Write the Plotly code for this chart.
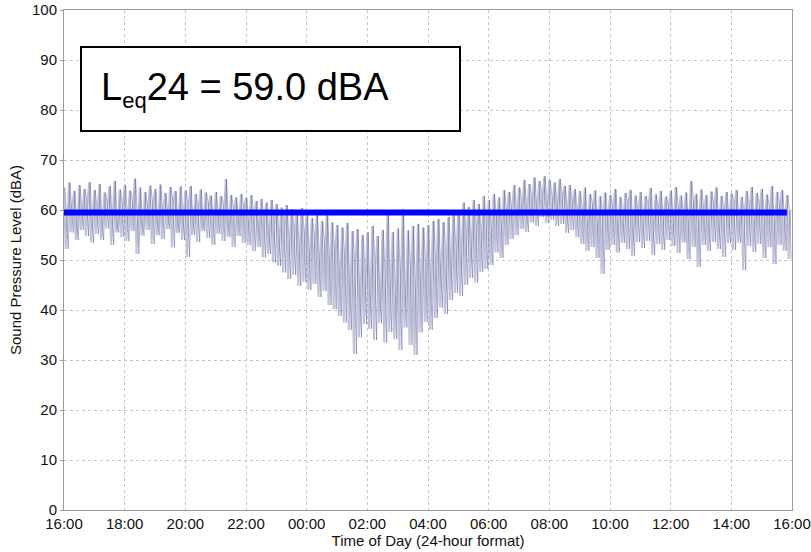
import pandas as pd
import plotly.graph_objects as go

# ---- data ----
start = pd.Timestamp("2020-01-01 16:00")

# highest level in each 10-minute interval (dBA)
spl_peaks = [
    64.5, 65.5, 63.8, 65.0, 64.2, 65.6,
    64.0, 65.2, 63.5, 64.8, 65.8, 64.1,
    65.0, 63.9, 66.3, 64.5, 63.6, 64.9,
    64.2, 65.1, 63.4, 64.6, 63.8, 64.7,
    63.9, 64.8, 63.2, 64.1, 63.5, 62.9,
    63.6, 62.8, 66.2, 63.0, 62.5, 63.2,
    62.4, 63.0, 61.8, 62.2, 61.5, 62.0,
    61.2, 60.5, 61.0, 60.2, 59.8, 60.4,
    59.0, 58.4, 59.2, 57.8, 60.0, 57.5,
    57.0, 56.5, 57.4, 55.8, 56.2, 55.0,
    55.5, 56.8, 54.8, 56.0, 59.6, 55.6,
    56.3, 60.1, 55.9, 56.8, 57.2, 56.5,
    57.0, 57.8, 58.2, 57.6, 58.6, 59.0,
    59.8, 61.5, 60.6, 62.0, 61.2, 62.8,
    62.0, 63.2, 62.5, 64.0, 63.6, 65.0,
    64.5, 66.0, 65.2, 66.5, 65.8, 66.8,
    66.0, 65.5, 66.2, 64.8, 65.0, 64.2,
    63.8, 64.5, 63.2, 63.9, 62.8, 63.5,
    63.0, 64.2, 62.6, 63.4, 64.0, 62.9,
    63.6, 62.8, 64.4, 63.1, 63.8, 62.7,
    63.9, 64.6, 62.9, 63.5, 65.8, 63.2,
    64.1, 63.0, 63.7, 64.5, 62.8, 63.6,
    63.3, 64.0, 62.6, 63.8, 64.6, 63.4,
    64.2, 63.1, 64.8, 63.6, 64.0, 63.0,
]

# lowest level in each 10-minute interval (dBA)
spl_troughs = [
    52.2, 55.5, 54.0, 56.0, 54.8, 53.5,
    55.2, 54.0, 56.3, 53.0, 55.5, 54.6,
    53.8, 55.8, 51.2, 54.9, 56.0, 53.2,
    55.0, 54.2, 56.2, 52.5, 55.4, 54.0,
    50.6, 55.0, 53.6, 55.8, 54.4, 53.0,
    55.2, 53.8, 54.6, 52.6, 54.8, 53.4,
    53.0, 51.8, 52.6, 50.5, 51.2, 49.5,
    48.8, 47.5, 46.2, 47.0, 44.8, 45.6,
    44.0, 45.2, 42.6, 43.8, 41.0, 40.2,
    38.8, 37.5, 36.0, 31.2, 34.5, 37.2,
    36.2, 34.0, 37.4, 33.5, 35.6, 34.2,
    32.0, 36.5, 33.0, 31.0, 35.5, 37.6,
    36.0, 38.4, 40.5, 39.2, 42.0, 43.4,
    42.8, 45.0, 46.4, 45.5, 47.6, 48.2,
    49.0, 51.5, 50.4, 53.0, 54.2, 55.0,
    56.2, 55.6, 57.5, 56.8, 58.6, 57.4,
    58.0, 56.8, 57.2, 55.4, 56.0, 54.5,
    53.2, 51.8, 52.6, 50.4, 47.2, 52.0,
    53.0, 51.5, 53.4, 52.2, 50.8, 53.6,
    52.4, 53.8, 51.0, 53.2, 52.0, 54.0,
    52.8, 51.4, 53.5, 50.2, 52.6, 48.6,
    53.0, 51.8, 53.6, 52.2, 50.6, 53.4,
    52.0, 53.5, 48.0, 52.8, 51.6, 53.2,
    50.4, 52.6, 49.2, 53.0, 51.8, 50.2,
]

# a typical in-between reading in each 10-minute interval (dBA)
spl_mid = [
    58.5, 61.0, 57.2, 60.4, 62.0, 58.8,
    60.6, 57.8, 61.5, 59.0, 56.8, 61.2,
    58.2, 62.1, 59.4, 57.0, 60.8, 61.6,
    57.6, 60.2, 58.8, 62.0, 57.4, 59.6,
    61.0, 58.0, 60.6, 57.6, 61.4, 58.4,
    59.8, 61.2, 57.0, 60.4, 58.2, 60.8,
    57.4, 59.6, 56.8, 58.8, 55.6, 58.2,
    55.0, 57.6, 53.8, 56.2, 52.6, 55.4,
    51.6, 54.8, 50.2, 53.6, 49.0, 52.4,
    47.4, 51.0, 45.2, 49.6, 43.6, 48.0,
    44.2, 49.8, 42.6, 47.2, 45.0, 41.8,
    47.6, 43.0, 48.8, 44.4, 46.6, 49.4,
    45.8, 50.2, 48.0, 51.6, 49.8, 53.0,
    52.2, 55.4, 53.6, 56.8, 54.8, 57.6,
    56.4, 58.8, 57.2, 59.8, 60.6, 59.4,
    61.8, 60.4, 62.6, 61.2, 63.4, 62.0,
    62.8, 61.4, 63.0, 60.2, 61.8, 59.6,
    60.4, 58.0, 61.2, 57.4, 59.6, 58.6,
    60.8, 57.6, 59.4, 61.6, 56.8, 60.2,
    58.4, 61.4, 57.2, 60.6, 58.8, 61.0,
    57.8, 60.4, 59.6, 57.0, 61.8, 58.2,
    60.6, 58.0, 61.2, 57.6, 60.0, 58.8,
    61.4, 57.4, 59.8, 60.8, 56.6, 61.0,
    58.2, 60.6, 57.6, 61.2, 58.6, 60.0,
]

leq_level = 59.5
leq_label = "L<sub><span style='font-size:22px'>eq</span></sub>24 = 59.0 dBA"
tick_labels = ["16:00", "18:00", "20:00", "22:00", "00:00", "02:00", "04:00",
               "06:00", "08:00", "10:00", "12:00", "14:00", "16:00"]
y_ticks = [0, 10, 20, 30, 40, 50, 60, 70, 80, 90, 100]

# ---- build series ----
# light trace: peak, trough, mid within each 10-minute interval
t_light, v_light = [], []
# dark trace: peak, mid, trough, interleaved in time with the light one
t_dark, v_dark = [], []
for i, (p, t, m) in enumerate(zip(spl_peaks, spl_troughs, spl_mid)):
    base = start + pd.Timedelta(minutes=10 * i)
    for k, v in enumerate((p, t, m)):
        t_light.append(base + pd.Timedelta(seconds=200 * k))
        v_light.append(v)
    for k, v in enumerate((p, m, t)):
        t_dark.append(base + pd.Timedelta(seconds=100 + 200 * k))
        v_dark.append(v)

tick_vals = [start + pd.Timedelta(hours=2 * k) for k in range(len(tick_labels))]
end = start + pd.Timedelta(hours=24)

fig = go.Figure()
fig.add_trace(go.Scatter(
    x=t_light, y=v_light, mode="lines",
    line=dict(color="rgb(194,194,214)", width=2.0),
    hoverinfo="skip", showlegend=False,
))
fig.add_trace(go.Scatter(
    x=t_dark, y=v_dark, mode="lines",
    line=dict(color="rgba(55,55,150,0.55)", width=0.7),
    hoverinfo="skip", showlegend=False,
))
fig.add_trace(go.Scatter(
    x=[start, start + pd.Timedelta(minutes=23 * 60 + 50)], y=[leq_level, leq_level],
    mode="lines", line=dict(color="#0000ff", width=6),
    showlegend=False,
))

font_family = "Liberation Sans, Arial, sans-serif"
grid_color = "#c4c4c4"
frame_color = "#9a9a9a"
fig.update_layout(
    width=811, height=552,
    margin=dict(l=64, r=19, t=10, b=42),
    paper_bgcolor="white", plot_bgcolor="white",
    font=dict(family=font_family, size=15, color="#111"),
    xaxis=dict(
        range=[start, end], tickvals=tick_vals, ticktext=tick_labels,
        showgrid=True, gridcolor=grid_color, griddash="dot", gridwidth=1,
        showline=True, linecolor=frame_color, linewidth=1, mirror=True,
        ticks="", zeroline=False, automargin=False,
        tickfont=dict(size=15),
        title=dict(text="Time of Day (24-hour format)", font=dict(size=15), standoff=2),
    ),
    yaxis=dict(
        range=[0, 100], tickvals=y_ticks,
        showgrid=True, gridcolor=grid_color, griddash="dot", gridwidth=1,
        showline=True, linecolor=frame_color, linewidth=1, mirror=True,
        ticks="outside", ticklen=3, tickcolor=frame_color, zeroline=False,
        automargin=False,
        tickfont=dict(size=15),
        title=dict(text="Sound Pressure Level (dBA)", font=dict(size=15), standoff=6),
    ),
)

fig.add_shape(type="rect", xref="paper", yref="paper",
              x0=(81 - 64) / 728, x1=(460 - 64) / 728,
              y0=(510 - 131) / 500, y1=(510 - 47) / 500,
              line=dict(color="black", width=2), fillcolor="white", layer="above")
fig.add_annotation(xref="paper", yref="paper",
                   x=(99 - 64) / 728, y=(510 - 89) / 500,
                   xanchor="left", yanchor="middle", showarrow=False,
                   text=leq_label, font=dict(size=38, color="black", family=font_family))

fig.write_html("out.html", config={"displayModeBar": False},
               post_script="document.body.style.margin='0';")
